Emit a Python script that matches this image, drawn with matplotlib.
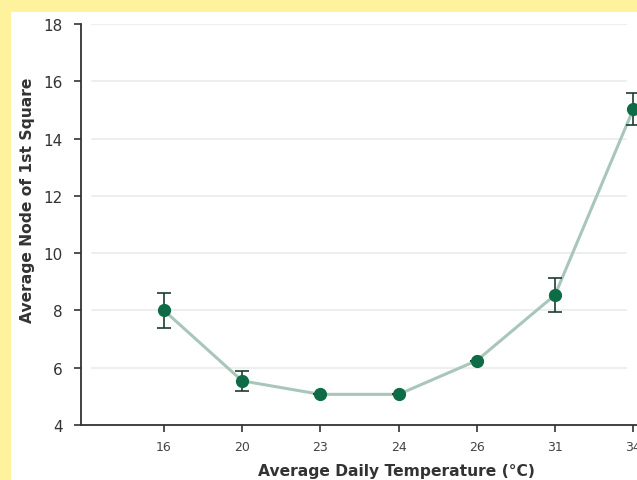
import matplotlib.pyplot as plt
import matplotlib.patches as patches

temps = ['16', '20', '23', '24', '26', '31', '34']
node_avg = [8.0, 5.54, 5.07, 5.07, 6.25, 8.54, 15.02]
node_err = [0.6, 0.35, 0.0, 0.0, 0.0, 0.58, 0.56]

yticks = [4, 6, 8, 10, 12, 14, 16, 18]

W, H = 637, 481
fig = plt.figure(figsize=(W / 100, H / 100), dpi=100)
fig.patch.set_facecolor('#fef29c')

# white panel, yellow strip left and top
fig.patches.append(patches.Rectangle((11 / W, 0), 1, 1 - 13 / H,
                                     transform=fig.transFigure,
                                     facecolor='white', edgecolor='none', zorder=-10))

left, right = 81 / W, 1.0
bottom, top = (H - 426) / H, (H - 25) / H
ax = fig.add_axes([left, bottom, right - left, top - bottom])
ax.patch.set_alpha(0)

x = list(range(len(temps)))
ax.plot(x, node_avg, color='#a9c6bb', lw=2.2, zorder=2)
ax.errorbar(x, node_avg, yerr=node_err, fmt='none', ecolor='#1d3d30',
            elinewidth=1.2, capsize=5, capthick=1.2, zorder=3)
ax.plot(x, node_avg, 'o', color='#0d6b46', ms=8.5, zorder=4)

step = 78.2
ax.set_xlim(-(164 - 81) / step, (W - 164) / step)
ax.set_ylim(4, 18)
ax.set_xticks(x)
ax.set_xticklabels(temps, fontsize=9, color='#444444', family='DejaVu Sans')
ax.set_yticks(yticks)
ax.set_yticklabels([str(v) for v in yticks], fontsize=11, color='#333333',
                   family='DejaVu Sans')

for v in yticks[1:]:
    ax.axhline(v, xmin=0.02, xmax=0.98, color='#ebebeb', lw=1.2, zorder=1)

for s in ['top', 'right']:
    ax.spines[s].set_visible(False)
for s in ['left', 'bottom']:
    ax.spines[s].set_color('#333333')
    ax.spines[s].set_linewidth(1.3)
ax.tick_params(axis='y', direction='out', length=5, width=1.2, color='#333333', pad=8)
ax.tick_params(axis='x', direction='out', length=5, width=1.2, color='#333333', pad=6)

ax.set_xlabel('Average Daily Temperature (°C)', fontsize=11.2, fontweight='bold',
              color='#333333', family='DejaVu Sans')
ax.set_ylabel('Average Node of 1st Square', fontsize=11.2, fontweight='bold',
              color='#333333', family='DejaVu Sans')
ax.xaxis.set_label_coords(0.568, -0.096)
ax.yaxis.set_label_coords(-0.083, 0.564)

fig.savefig('out.png', dpi=100, facecolor=fig.get_facecolor())
